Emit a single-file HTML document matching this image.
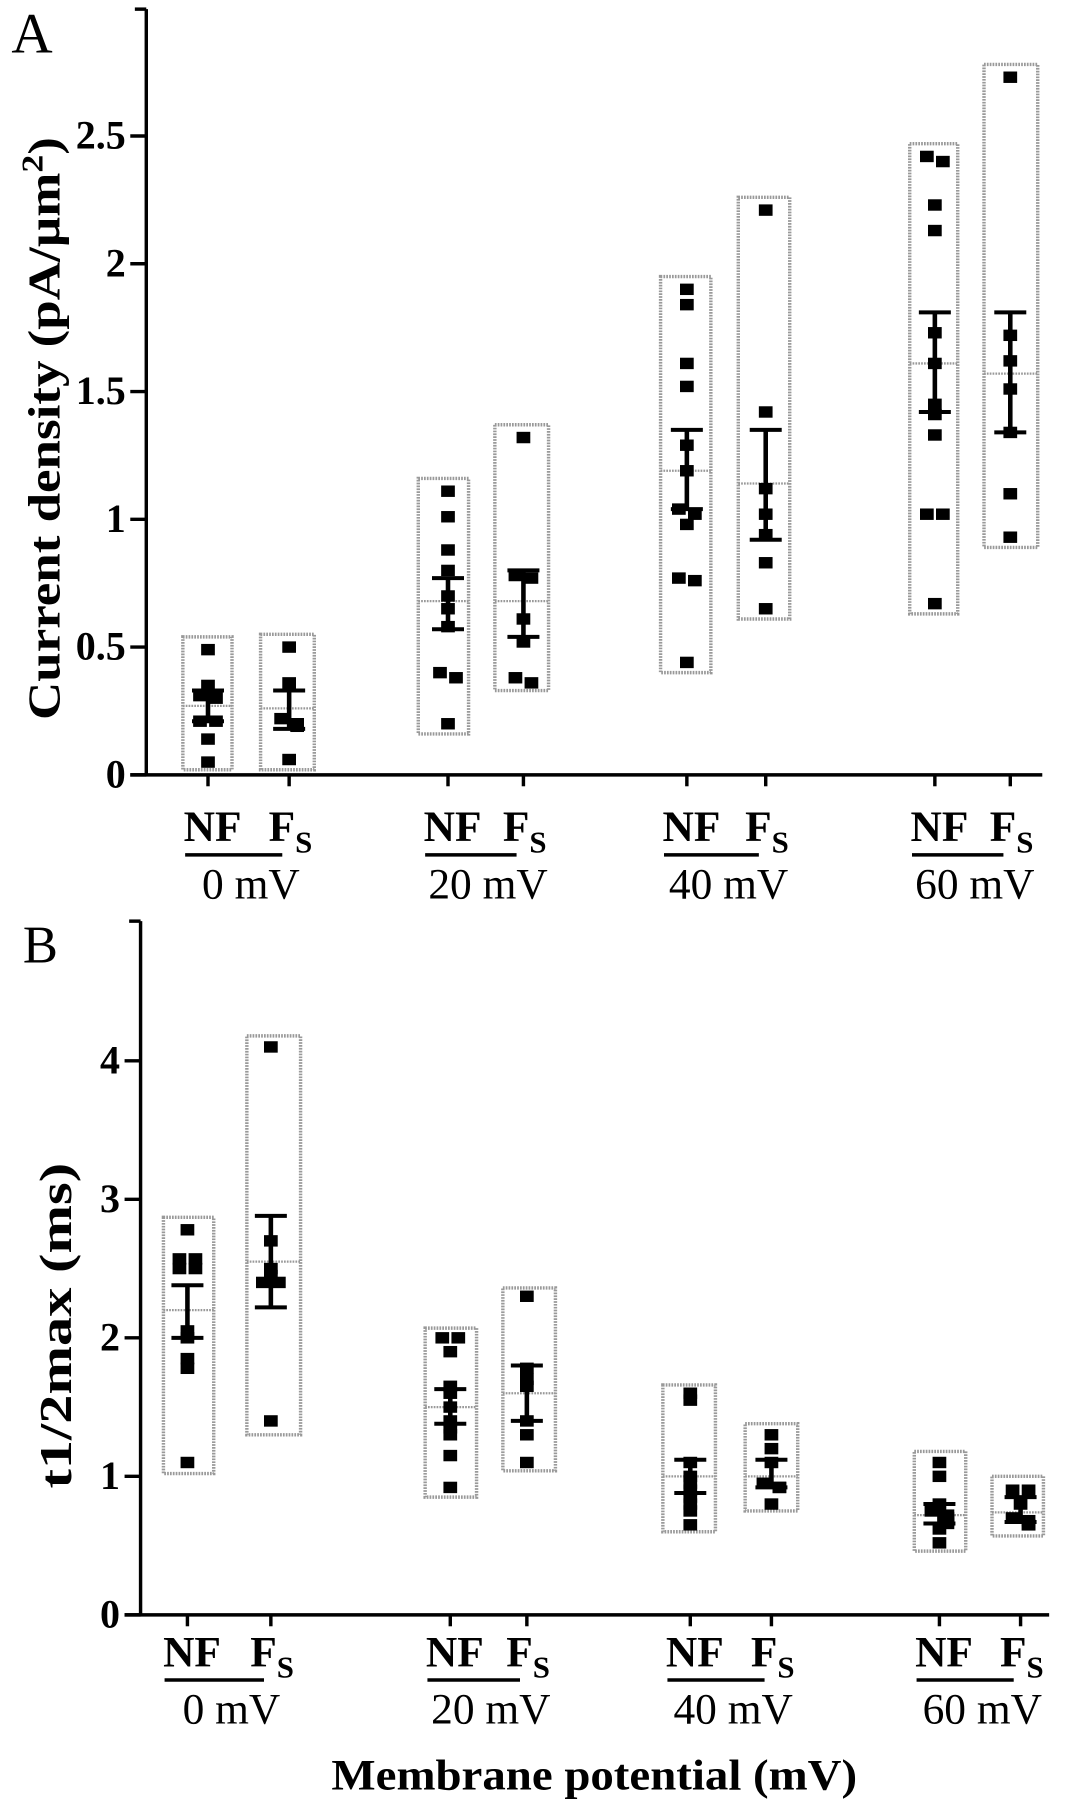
<!DOCTYPE html>
<html><head><meta charset="utf-8"><style>
html,body{margin:0;padding:0;background:#fff;}
svg{display:block;}
text{font-family:"Liberation Serif",serif;fill:#000;}
</style></head><body>
<svg id="fig" width="1072" height="1800" viewBox="0 0 938 1575" xmlns="http://www.w3.org/2000/svg">
<g id="pa"></g>
<g id="pb"></g>
</svg>
<script>
const NS="http://www.w3.org/2000/svg";
// ---------- Panel A data ----------
const aCategories=["0 mV","20 mV","40 mV","60 mV"];
const aTicks=[0,0.5,1,1.5,2,2.5];
const aTickLabels=["0","0.5","1","1.5","2","2.5"];
const aNF0=[0.49,0.35,0.31,0.30,0.21,0.21,0.14,0.05];
const aFS0=[0.50,0.36,0.22,0.20,0.19,0.20,0.06];
const aNF20=[1.11,1.01,0.88,0.80,0.70,0.65,0.58,0.40,0.38,0.20];
const aFS20=[1.32,0.78,0.77,0.61,0.52,0.38,0.36];
const aNF40=[1.90,1.84,1.61,1.52,1.29,1.19,1.04,1.02,0.98,0.77,0.76,0.44];
const aFS40=[2.21,1.42,1.12,1.02,0.94,0.83,0.65];
const aNF60=[2.42,2.40,2.23,2.13,1.73,1.61,1.45,1.41,1.33,1.02,1.02,0.67];
const aFS60=[2.73,1.72,1.62,1.51,1.34,1.10,0.93];
const aMeans=[0.27,0.26,0.68,0.68,1.19,1.14,1.61,1.57];
const aErrLo=[0.21,0.18,0.57,0.54,1.04,0.92,1.42,1.34];
const aErrHi=[0.33,0.33,0.77,0.80,1.35,1.35,1.81,1.81];
const aBoxLo=[0.02,0.02,0.16,0.33,0.40,0.61,0.63,0.89];
const aBoxHi=[0.54,0.55,1.16,1.37,1.95,2.26,2.47,2.78];
// ---------- Panel B data ----------
const bCategories=["0 mV","20 mV","40 mV","60 mV"];
const bTicks=[0,1,2,3,4];
const bTickLabels=["0","1","2","3","4"];
const bNF0=[2.78,2.57,2.57,2.50,2.50,2.05,2.00,1.85,1.78,1.10];
const bFS0=[4.10,2.70,2.50,2.45,2.40,2.40,1.40];
const bNF20=[2.00,2.00,1.90,1.65,1.60,1.50,1.40,1.35,1.30,1.15,0.92];
const bFS20=[2.30,1.78,1.70,1.65,1.40,1.30,1.10];
const bNF40=[1.60,1.55,1.10,1.00,0.95,0.90,0.85,0.80,0.75,0.65];
const bFS40=[1.30,1.20,1.10,0.95,0.92,0.92,0.80];
const bNF60=[1.10,1.00,0.80,0.75,0.72,0.70,0.68,0.66,0.62,0.52];
const bFS60=[0.90,0.90,0.80,0.70,0.68,0.65,0.65];
const bMeans=[2.20,2.55,1.50,1.60,1.00,1.00,0.72,0.74];
const bErrLo=[2.00,2.22,1.38,1.40,0.88,0.92,0.66,0.67];
const bErrHi=[2.38,2.88,1.63,1.80,1.12,1.12,0.80,0.85];
const bBoxLo=[1.02,1.30,0.85,1.04,0.60,0.75,0.46,0.57];
const bBoxHi=[2.87,4.18,2.07,2.36,1.66,1.38,1.18,1.00];

function mk(parent,tag,attrs,txt){const e=document.createElementNS(NS,tag);for(const k in attrs)e.setAttribute(k,attrs[k]);if(txt!==undefined)e.textContent=txt;parent.appendChild(e);return e;}

function panel(g,cfg){
  const y=v=>cfg.y0-(v)*cfg.unit;
  const ax=mk(g,"line",{x1:cfg.ax,y1:cfg.top,x2:cfg.ax,y2:cfg.y0,stroke:"#000","stroke-width":3});
  
  
  mk(g,"line",{x1:cfg.ax,y1:cfg.top,x2:cfg.ax-10,y2:cfg.top,stroke:"#000","stroke-width":3});
  const xa=mk(g,"line",{x1:cfg.ax-14,y1:cfg.y0,x2:cfg.xend,y2:cfg.y0,stroke:"#000","stroke-width":3});
  
  
  cfg.ticks.forEach((t,i)=>{
    mk(g,"line",{x1:cfg.ax-14,y1:y(t),x2:cfg.ax,y2:y(t),stroke:"#000","stroke-width":3});
    const tl=mk(g,"text",{x:cfg.ax-18,y:y(t)+11,"text-anchor":"end","font-size":35,"font-weight":"bold"},cfg.tickLabels[i]);
    
    
  });
  cfg.xs.forEach((x,gi)=>{
    mk(g,"line",{x1:x,y1:cfg.y0,x2:x,y2:cfg.y0+10,stroke:"#000","stroke-width":3});
    const bx=mk(g,"rect",{x:cfg.boxX[gi],y:y(cfg.boxHi[gi]),width:cfg.boxW[gi],height:y(cfg.boxLo[gi])-y(cfg.boxHi[gi]),fill:"none",stroke:"#999","stroke-width":3,"stroke-dasharray":"1.5 1"});
    
    
    mk(g,"line",{x1:cfg.boxX[gi],y1:y(cfg.means[gi]),x2:cfg.boxX[gi]+cfg.boxW[gi],y2:y(cfg.means[gi]),stroke:"#999","stroke-width":2,"stroke-dasharray":"1.5 1"});
    const pts=cfg.series[gi];
    pts.forEach((v,i)=>{
      let off=0;
      if(i>0&&Math.abs(pts[i-1]-v)<0.035) off=7;
      else if(i<pts.length-1&&Math.abs(pts[i+1]-v)<0.035) off=-7;
      const p=mk(g,"rect",{x:x+off-6,y:y(v)-5,width:12,height:10,fill:"#000"});
      
      
    });
    const eb=mk(g,"line",{x1:x,y1:y(cfg.errHi[gi]),x2:x,y2:y(cfg.errLo[gi]),stroke:"#000","stroke-width":4});
    
    
    mk(g,"line",{x1:x-14,y1:y(cfg.errHi[gi]),x2:x+14,y2:y(cfg.errHi[gi]),stroke:"#000","stroke-width":3.5});
    mk(g,"line",{x1:x-14,y1:y(cfg.errLo[gi]),x2:x+14,y2:y(cfg.errLo[gi]),stroke:"#000","stroke-width":3.5});
  });
  cfg.cats.forEach((c,ci)=>{
    const xn=cfg.xs[ci*2], xf=cfg.xs[ci*2+1];
    const nf=mk(g,"text",{x:xn+4,y:cfg.lblY,"text-anchor":"middle","font-size":38,"font-weight":"bold"},"NF");
    
    
    const fs=mk(g,"text",{x:xf-18,y:cfg.lblY,"font-size":38,"font-weight":"bold"});
    mk(fs,"tspan",{},"F");
    mk(fs,"tspan",{"font-size":27,dy:10},"S");
    
    
    mk(g,"line",{x1:xn-20,y1:cfg.lblY+12,x2:xf-6,y2:cfg.lblY+12,stroke:"#000","stroke-width":3});
    const cl=mk(g,"text",{x:(xn+xf)/2+2,y:cfg.lblY+50,"text-anchor":"middle","font-size":38},c);
    
    
  });
}

const A=document.getElementById("pa");
panel(A,{ax:128,top:8,y0:678,unit:223.6,xend:912,ticks:aTicks,tickLabels:aTickLabels,
  xs:[182,253,392,458,601,670,818,884],
  boxX:[160,228,366,433,578,646,796,861],boxW:[43,47,44,47,44,45,42,47],
  series:[aNF0,aFS0,aNF20,aFS20,aNF40,aFS40,aNF60,aFS60],
  means:aMeans,errLo:aErrLo,errHi:aErrHi,boxLo:aBoxLo,boxHi:aBoxHi,cats:aCategories,lblY:736});
const B=document.getElementById("pb");
panel(B,{ax:123,top:806,y0:1413,unit:121.2,xend:918,ticks:bTicks,tickLabels:bTickLabels,
  xs:[164,237,394,461,604,675,822,893],
  boxX:[143,216,372,440,580,652,800,868],boxW:[44,47,45,46,46,46,45,45],
  series:[bNF0,bFS0,bNF20,bFS20,bNF40,bFS40,bNF60,bFS60],
  means:bMeans,errLo:bErrLo,errHi:bErrHi,boxLo:bBoxLo,boxHi:bBoxHi,cats:bCategories,lblY:1458});

const la=mk(A,"text",{x:10,y:46,"font-size":50},"A");


const lb=mk(B,"text",{x:20,y:842,"font-size":46},"B");


const ya=mk(A,"text",{transform:"translate(52,375) rotate(-90)","text-anchor":"middle","font-size":40,"font-weight":"bold",textLength:510,lengthAdjust:"spacingAndGlyphs"});
mk(ya,"tspan",{},"Current density (pA/\u00b5m");
mk(ya,"tspan",{"font-size":27,dy:-15},"2");
mk(ya,"tspan",{dy:15},")");


const yb=mk(B,"text",{transform:"translate(62,1160) rotate(-90)","text-anchor":"middle","font-size":40,"font-weight":"bold",textLength:285,lengthAdjust:"spacingAndGlyphs"},"t1/2max (ms)");


const xt=mk(B,"text",{x:520,y:1566,"text-anchor":"middle","font-size":38,"font-weight":"bold",textLength:460,lengthAdjust:"spacingAndGlyphs"},"Membrane potential (mV)");


</script>
</body></html>
